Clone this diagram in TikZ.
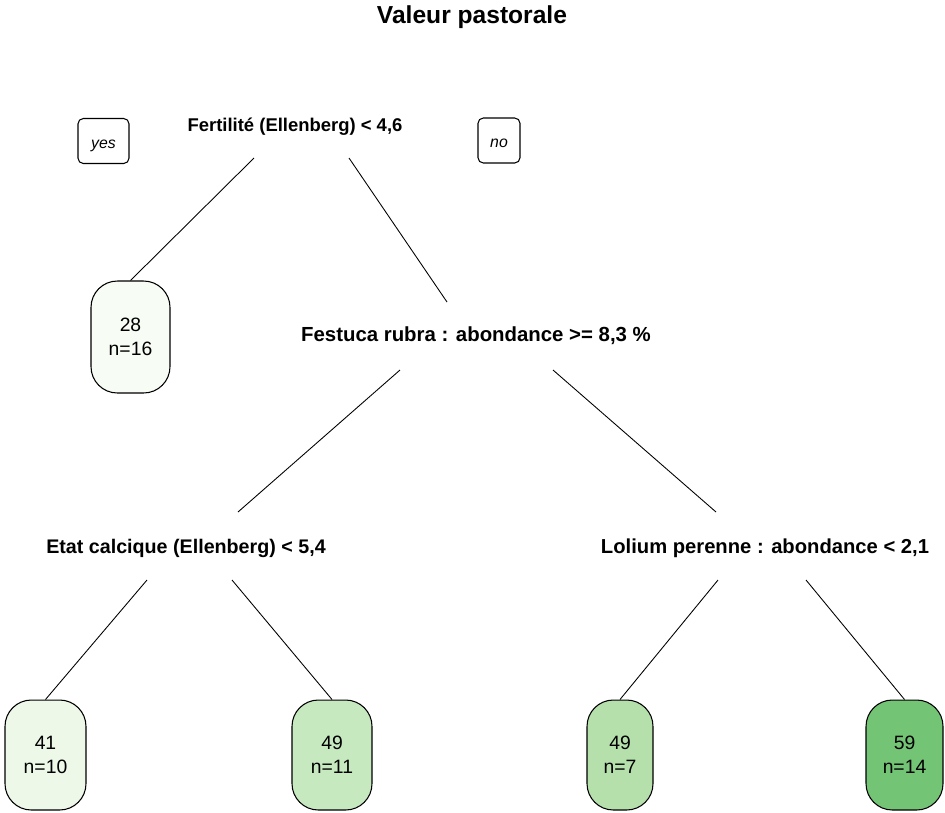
\documentclass[tikz,border=0pt]{standalone}
\usepackage{fontspec}
\setmainfont{Liberation Sans}
\usetikzlibrary{calc}
\definecolor{leafa}{HTML}{F7FCF5}
\definecolor{leafb}{HTML}{EDF8E9}
\definecolor{leafc}{HTML}{C7E9C0}
\definecolor{leafd}{HTML}{B5E0AC}
\definecolor{leafe}{HTML}{74C476}

\begin{document}
\begin{tikzpicture}[x=0.02cm, y=-0.02cm,
  splitlbl/.style={font=\bfseries\fontsize{#1}{12}\selectfont, inner sep=0pt},
  leafbox/.style={draw, line width=0.6pt, rounded corners=15pt, minimum width=1.58cm, minimum height=2.2cm, align=center, inner sep=0pt, font=\fontsize{11}{13.5}\selectfont},
  answer/.style={draw, line width=0.6pt, rounded corners=3pt, minimum height=0.9cm, text height=1.6ex, text depth=-0.6ex, inner sep=0pt, font=\itshape\fontsize{9}{10}\selectfont},
  branch/.style={line width=0.5pt}]

\useasboundingbox (0,0) rectangle (945,812);

% Title
\node[font=\bfseries\fontsize{14}{16}\selectfont] (title) at (472,17) {Valeur pastorale};

% Split labels
\node[splitlbl=10.5] (fert) at (295,127) {Fertilité (Ellenberg) < 4,6};
\node[splitlbl=11.6] (fest) at (476,336) {Festuca rubra : abondance >= 8,3 \%};
\node[splitlbl=11.2] (etat) at (186,548) {Etat calcique (Ellenberg) < 5,4};
\node[splitlbl=11.5] (lol) at (765,548) {Lolium perenne : abondance < 2,1};

% yes / no
\node[answer, minimum width=1.02cm] (yes) at (103.5,141) {yes};
\node[answer, minimum width=0.84cm] (no) at (499,140.5) {no};

% Leaves
\node[leafbox, fill=leafa, minimum height=2.24cm] (l28) at (130.5,337) {28\\n=16};
\node[leafbox, fill=leafb, minimum width=1.62cm] (l41) at (45.5,755) {41\\n=10};
\node[leafbox, fill=leafc, minimum width=1.6cm] (l49a) at (332,755) {49\\n=11};
\node[leafbox, fill=leafd, minimum width=1.32cm] (l49b) at (620,755) {49\\n=7};
\node[leafbox, fill=leafe, minimum width=1.54cm] (l59) at (904.5,755) {59\\n=14};

% Branches
\draw[branch] ($(fert)+(-41,31)$) -- (l28.north);
\draw[branch] ($(fert)+(54,31)$) -- ($(fest)+(-29,-34)$);
\draw[branch] ($(fest)+(-76,34)$) -- ($(etat)+(52,-36)$);
\draw[branch] ($(fest)+(77,34)$) -- ($(lol)+(-49,-36)$);
\draw[branch] ($(etat)+(-39,32)$) -- (l41.north);
\draw[branch] ($(etat)+(46,32)$) -- (l49a.north);
\draw[branch] ($(lol)+(-47,32)$) -- (l49b.north);
\draw[branch] ($(lol)+(41,32)$) -- (l59.north);

\end{tikzpicture}
\end{document}
